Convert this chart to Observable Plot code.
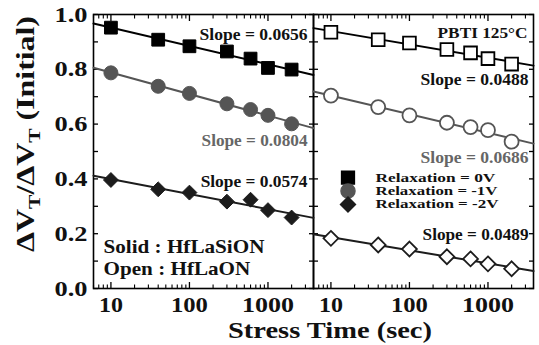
<!DOCTYPE html>
<html><head><meta charset="utf-8">
<script src="https://cdn.jsdelivr.net/npm/d3@7"></script>
<script src="https://cdn.jsdelivr.net/npm/@observablehq/plot@0.6"></script>
<style>
body{margin:0;background:#fff;}
#chart svg{display:block;}
</style></head><body><div id="chart"></div>
<script>
// ---- data ----
const stressTime = [10, 40, 100, 300, 600, 1000, 2000];
const panels = ["HfLaSiON", "HfLaON"];
const relaxations = ["0V", "-1V", "-2V"];
const solid0V = [0.952, 0.908, 0.884, 0.865, 0.839, 0.805, 0.799];
const solid1V = [0.787, 0.738, 0.712, 0.674, 0.653, 0.632, 0.601];
const solid2V = [0.396, 0.362, 0.350, 0.317, 0.324, 0.286, 0.259];
const open0V = [0.935, 0.908, 0.896, 0.872, 0.860, 0.839, 0.819];
const open1V = [0.704, 0.662, 0.632, 0.605, 0.589, 0.578, 0.536];
const open2V = [0.183, 0.159, 0.144, 0.116, 0.108, 0.090, 0.072];
const slopeSolid = ["Slope = 0.0656", "Slope = 0.0804", "Slope = 0.0574"];
const slopeOpen = ["Slope = 0.0488", "Slope = 0.0686", "Slope = 0.0489"];
const legendLabels = ["Relaxation = 0V", "Relaxation = -1V", "Relaxation = -2V"];
const materialLabels = ["Solid : HfLaSiON", "Open : HfLaON"];
const conditionLabel = "PBTI 125°C";
const yTickLabels = [0, 0.2, 0.4, 0.6, 0.8, 1.0];
const xTickLabels = [10, 100, 1000];

// ---- derived tables ----
const xDomain = [6, 3800];
const seriesList = [
  {panel: "HfLaSiON", relax: "0V", values: solid0V},
  {panel: "HfLaSiON", relax: "-1V", values: solid1V},
  {panel: "HfLaSiON", relax: "-2V", values: solid2V},
  {panel: "HfLaON", relax: "0V", values: open0V},
  {panel: "HfLaON", relax: "-1V", values: open1V},
  {panel: "HfLaON", relax: "-2V", values: open2V}
];
const points = seriesList.flatMap(s => s.values.map((v, i) => ({panel: s.panel, relax: s.relax, t: stressTime[i], v})));
function fitLine(s) {
  const lx = stressTime.map(Math.log10);
  const mx = d3.mean(lx), my = d3.mean(s.values);
  const b = d3.sum(lx, (x, i) => (x - mx) * (s.values[i] - my)) / d3.sum(lx, x => (x - mx) ** 2);
  const a = my - b * mx;
  return xDomain.map(t => ({panel: s.panel, relax: s.relax, t, v: a + b * Math.log10(t)}));
}
const fits = seriesList.flatMap(fitLine);

const sty = {
  "0V": {symbol: "square", color: "#000", line: "#000", r: 7.2},
  "-1V": {symbol: "circle", color: "#555", line: "#555", r: 7},
  "-2V": {symbol: "diamond2", color: "#1c1c1c", line: "#1c1c1c", r: 6.7}
};

// ticks
const xMinor = [];
for (const dec of [1, 10, 100, 1000]) for (let m = 2; m <= 9; m++) { const t = dec * m; if (t >= xDomain[0] && t <= xDomain[1]) xMinor.push(t); }
const yMinor = d3.range(0, 1.0001, 0.1);

const font = {fontFamily: "Liberation Serif", fontWeight: "bold"};

const marks = [];
marks.push(Plot.frame({stroke: "#000", strokeWidth: 1.6}));
// inward ticks
for (const anchor of ["left", "right"]) {
  const ins = anchor === "left" ? {insetLeft: 5} : {insetRight: 5};
  marks.push(Plot.axisY(yMinor, {anchor, facetAnchor: null, tickSize: 5, ...ins, tickFormat: () => "", label: null, strokeWidth: 1.3}));
}
for (const anchor of ["top", "bottom"]) {
  const insMaj = anchor === "top" ? {insetTop: 6} : {insetBottom: 6};
  const insMin = anchor === "top" ? {insetTop: 3.5} : {insetBottom: 3.5};
  marks.push(Plot.axisX(xTickLabels, {anchor, facetAnchor: null, tickSize: 6, ...insMaj, tickFormat: () => "", label: null, strokeWidth: 1.3}));
  marks.push(Plot.axisX(xMinor, {anchor, facetAnchor: null, tickSize: 3.5, ...insMin, tickFormat: () => "", label: null, strokeWidth: 1.1}));
}
// tick labels
marks.push(Plot.axisY(yTickLabels, {anchor: "left", tickSize: 0, tickPadding: 6, tickFormat: d3.format(".1f"), label: null, fontSize: 22, ...font, fill: "#111"}));
marks.push(Plot.axisX(xTickLabels, {anchor: "bottom", tickSize: 0, tickPadding: 8, tickFormat: d => String(d), label: null, fontSize: 22, ...font, fill: "#111"}));

// fit lines
for (const rel of relaxations) {
  marks.push(Plot.line(fits.filter(d => d.relax === rel), {x: "t", y: "v", z: "panel", fx: "panel", stroke: sty[rel].line, strokeWidth: 2}));
}
// dots
for (const p of panels) for (const rel of relaxations) {
  const solid = p === "HfLaSiON";
  marks.push(Plot.dot(points.filter(d => d.panel === p && d.relax === rel), {
    x: "t", y: "v", fx: "panel", symbol: sty[rel].symbol, r: sty[rel].r,
    fill: solid ? sty[rel].color : "#fff",
    stroke: sty[rel].color, strokeWidth: solid ? 1 : 1.8
  }));
}

// annotations
const slopeYSolid = [0.927, 0.538, 0.389];
const slopeYOpen = [0.76, 0.476, 0.196];
slopeSolid.forEach((lab, i) => {
  marks.push(Plot.text([{panel: "HfLaSiON", lab}], {fx: "panel", text: "lab", frameAnchor: "right", dx: -6, y: slopeYSolid[i], textAnchor: "end", fontSize: 16, ...font, fill: i === 1 ? "#666" : "#111"}));
});
slopeOpen.forEach((lab, i) => {
  marks.push(Plot.text([{panel: "HfLaON", lab}], {fx: "panel", text: "lab", frameAnchor: "right", dx: -5, y: slopeYOpen[i], textAnchor: "end", fontSize: 16, ...font, fill: i === 1 ? "#666" : "#111"}));
});
marks.push(Plot.text([{panel: "HfLaON", lab: conditionLabel}], {fx: "panel", text: "lab", frameAnchor: "right", dx: -6, y: 0.931, textAnchor: "end", fontSize: 15, ...font, fill: "#111"}));
materialLabels.forEach((lab, i) => {
  marks.push(Plot.text([{panel: "HfLaSiON", lab}], {fx: "panel", text: "lab", frameAnchor: "left", dx: 10, y: 0.149 - i * 0.08, textAnchor: "start", fontSize: 18, ...font, fill: "#111"}));
});
// legend
relaxations.forEach((rel, i) => {
  const y = 0.405 - i * 0.049;
  marks.push(Plot.dot([{panel: "HfLaON"}], {fx: "panel", x: 16.5, y, symbol: sty[rel].symbol, r: sty[rel].r, fill: sty[rel].color, stroke: sty[rel].color}));
  marks.push(Plot.text([{panel: "HfLaON", lab: legendLabels[i]}], {fx: "panel", text: "lab", x: 37, y, textAnchor: "start", fontSize: 12.5, ...font, fill: "#111"}));
});

const chart = Plot.plot({
  width: 539, height: 345,
  marginLeft: 93, marginRight: 6, marginTop: 14, marginBottom: 57,
  fx: {domain: panels, padding: 0, axis: null, label: null},
  x: {type: "log", domain: xDomain},
  y: {domain: [0, 1]},
  style: {background: "#fff"},
  marks
});
document.getElementById("chart").append(chart);

// horizontal widening of the Times-like lettering to the reference's measured widths
const targetWidth = {
  "Slope = 0.0656": 108, "Slope = 0.0804": 106, "Slope = 0.0574": 107,
  "Slope = 0.0488": 108, "Slope = 0.0686": 108, "Slope = 0.0489": 106,
  "Relaxation = 0V": 120, "Relaxation = -1V": 122, "Relaxation = -2V": 123,
  "Solid : HfLaSiON": 161, "Open : HfLaON": 147, "PBTI 125°C": 90,
  "10": 24, "100": 37, "1000": 52,
  "0.0": 33, "0.2": 33, "0.4": 33, "0.6": 33, "0.8": 33, "1.0": 33
};
const allTexts = Array.from(chart.querySelectorAll("text"));
for (const t of allTexts) {
  try {
    const key = (t.textContent || "").trim();
    if (!(key in targetWidth)) continue;
    const bb = t.getBBox();
    if (!(bb.width > 0)) continue;
    const s = targetWidth[key] / bb.width;
    const anchor = getComputedStyle(t).textAnchor;
    const ax = anchor === "end" ? bb.x + bb.width : anchor === "middle" ? bb.x + bb.width / 2 : bb.x;
    const prev = t.getAttribute("transform") || "";
    t.setAttribute("transform", `${prev} translate(${ax.toFixed(2)},0) scale(${s.toFixed(4)},1) translate(${(-ax).toFixed(2)},0)`.trim());
  } catch (e) { /* keep natural width */ }
}

const svg = d3.select(chart);
// x label
svg.append("text")
  .attr("x", 330).attr("y", 338).attr("text-anchor", "middle")
  .attr("font-family", "Liberation Serif").attr("font-weight", "bold").attr("font-size", 24).attr("fill", "#111")
  .attr("textLength", 204).attr("lengthAdjust", "spacingAndGlyphs")
  .text("Stress Time (sec)");
// y label
const yl = svg.append("text")
  .attr("transform", "translate(34,134) rotate(-90)").attr("text-anchor", "middle")
  .attr("font-family", "Liberation Serif").attr("font-weight", "bold").attr("font-size", 25).attr("fill", "#111")
  .attr("textLength", 236).attr("lengthAdjust", "spacingAndGlyphs");
yl.append("tspan").text("ΔV");
yl.append("tspan").attr("dy", 6).attr("font-size", 17).text("T");
yl.append("tspan").attr("dy", -6).text("/ΔV");
yl.append("tspan").attr("dy", 6).attr("font-size", 17).text("T");
yl.append("tspan").attr("dy", -6).text(" (Initial)");
</script></body></html>
